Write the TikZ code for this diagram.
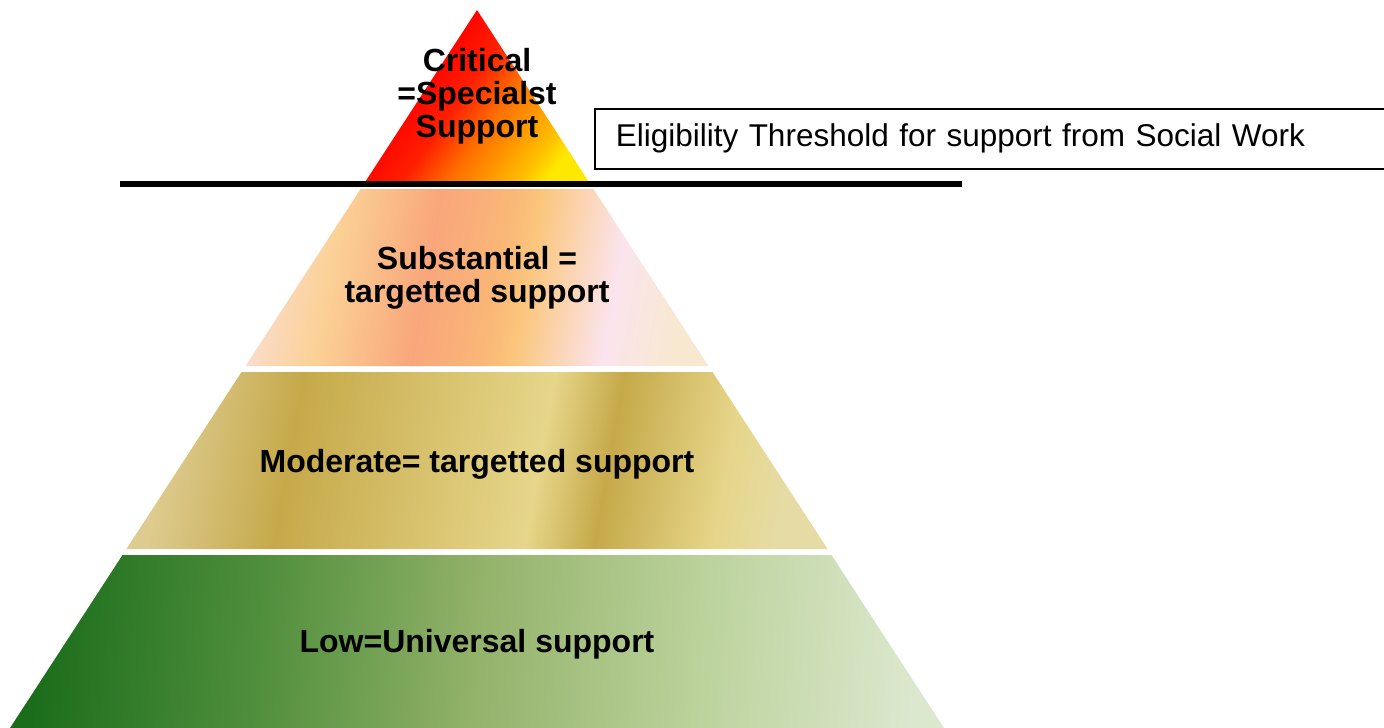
\documentclass[tikz,border=0pt]{standalone}
\usepackage{fontspec}
\setmainfont{Liberation Sans}
\usepackage{tikz}
\usetikzlibrary{positioning}
\usepackage{xcolor}

% colours of the four levels
\definecolor{critDark}{HTML}{D40000}
\definecolor{critRed}{HTML}{FF0000}
\definecolor{critRedOr}{HTML}{FF2000}
\definecolor{critOrange}{HTML}{FF6C00}
\definecolor{critAmber}{HTML}{FF9800}
\definecolor{critGold}{HTML}{FFC000}
\definecolor{critYellow}{HTML}{FFE800}

\definecolor{subA}{HTML}{FADCC8}
\definecolor{subB}{HTML}{FBD196}
\definecolor{subC}{HTML}{F9A67B}
\definecolor{subD}{HTML}{FAB777}
\definecolor{subE}{HTML}{FBC67C}
\definecolor{subF}{HTML}{FBE4EE}
\definecolor{subG}{HTML}{F8E8CF}

\definecolor{modLight}{HTML}{DDCB8F}
\definecolor{modDark}{HTML}{C6A94A}
\definecolor{modPale}{HTML}{E6D68A}
\definecolor{modEnd}{HTML}{E6DBA5}

\definecolor{lowA}{HTML}{1B6D1B}
\definecolor{lowB}{HTML}{4F8E3C}
\definecolor{lowC}{HTML}{93B26A}
\definecolor{lowD}{HTML}{BBD29B}
\definecolor{lowE}{HTML}{DCE8CE}

% stops run from 25bp (left edge of the band) to 75bp (right edge)
\pgfdeclarehorizontalshading{criticalfill}{100bp}{color(0bp)=(critDark); color(28bp)=(critDark);
  color(36bp)=(critRed); color(47bp)=(critRedOr); color(56bp)=(critOrange);
  color(64bp)=(critAmber); color(71bp)=(critGold); color(76bp)=(critYellow); color(100bp)=(critYellow)}
\pgfdeclarehorizontalshading{substantialfill}{100bp}{color(0bp)=(subA); color(25bp)=(subA);
  color(32.5bp)=(subB); color(44bp)=(subC); color(52.5bp)=(subD); color(56bp)=(subE);
  color(66.5bp)=(subF); color(75bp)=(subG); color(100bp)=(subG)}
\pgfdeclarehorizontalshading{moderatefill}{100bp}{color(0bp)=(modLight); color(25bp)=(modLight);
  color(35bp)=(modDark); color(55bp)=(modPale); color(60.5bp)=(modDark);
  color(70bp)=(modPale); color(75bp)=(modEnd); color(100bp)=(modEnd)}
\pgfdeclarehorizontalshading{lowfill}{100bp}{color(0bp)=(lowA); color(25bp)=(lowA);
  color(37.5bp)=(lowB); color(50bp)=(lowC); color(62.5bp)=(lowD);
  color(75bp)=(lowE); color(100bp)=(lowE)}

\begin{document}
\begin{tikzpicture}[x=1pt, y=-1pt,
    bandlabel/.style={font=\bfseries\fontsize{32}{33}\selectfont, align=center, inner sep=0pt},
    thresholdbox/.style={draw, line width=1.5pt, anchor=north west, minimum height=60pt,
        text width=800pt, inner xsep=21pt, align=left, font=\fontsize{31.5}{33}\selectfont}]
    \clip (0,0) rectangle (1384,728);

    % pyramid levels, top to bottom
    \shade[shading=criticalfill, shading angle=-35]
        (477,10) -- (588.9,182) -- (365.1,182) -- cycle;
    \shade[shading=substantialfill, shading angle=-10]
        (360.6,189) -- (593.4,189) -- (708.5,366) -- (245.5,366) -- cycle;
    \shade[shading=moderatefill, shading angle=-10]
        (241.5,372) -- (712.5,372) -- (827.6,549) -- (126.4,549) -- cycle;
    \shade[shading=lowfill, shading angle=-4]
        (122.5,555) -- (831.5,555) -- (944,728) -- (10,728) -- cycle;

    % eligibility threshold
    \draw[line width=6pt] (120,184) -- (962,184);
    \node[thresholdbox] (threshold) at (594,108)
        {Eligibility Threshold for support from Social Work};

    % level labels
    \node[bandlabel] (critical) at (477,96.5) {Critical\\=Specialst\\Support};
    \node[bandlabel] (substantial) at (477,278) {Substantial =\\targetted support};
    \node[bandlabel, anchor=base] (moderate) at (477,472) {Moderate= targetted support};
    \node[bandlabel, anchor=base] (low) at (477,652) {Low=Universal support};
\end{tikzpicture}
\end{document}
